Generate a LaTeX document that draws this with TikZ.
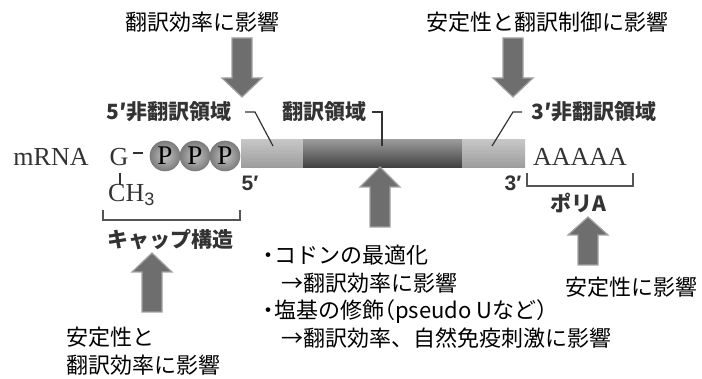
\documentclass[tikz,border=0pt]{standalone}
\usepackage{fontspec}
\setmainfont{Liberation Serif}
\newfontfamily\jp{Noto Sans CJK JP}
\newfontfamily\jpp[RawFeature=+palt]{Noto Sans CJK JP}
\newfontfamily\sansf{Liberation Sans}
\usetikzlibrary{calc}
\definecolor{arrowfill}{HTML}{6E6E6E}
\definecolor{arrowedge}{HTML}{A2A2A2}
\definecolor{labelgray}{HTML}{333333}
\definecolor{linegray}{HTML}{555555}
\definecolor{lightA}{HTML}{C6C6C6}
\definecolor{lightB}{HTML}{E2E2E2}
\definecolor{lightC}{HTML}{9C9C9C}
\definecolor{darkA}{HTML}{9A9A9A}
\definecolor{darkB}{HTML}{7A7A7A}
\definecolor{darkC}{HTML}{3E3E3E}
\definecolor{ballin}{HTML}{C4C4C4}
\definecolor{ballout}{HTML}{7C7C7C}
\tikzset{
  blockarrow/.style={fill=arrowfill,draw=arrowedge,line width=1.2pt,line join=miter},
  anno/.style={font=\jp\fontsize{22}{27.5}\selectfont,text=black,inner sep=0pt},
  lbl/.style={font=\jp\bfseries\fontsize{21}{25}\selectfont,text=labelgray,inner sep=0pt},
  serif/.style={font=\fontsize{26}{30}\selectfont,text=labelgray,inner sep=0pt},
  prime/.style={font=\sansf\bfseries\fontsize{21}{24}\selectfont,text=labelgray,inner sep=0pt},
  leader/.style={draw=labelgray,line width=1.2pt},
  bracketline/.style={draw=linegray,line width=2pt},
  lightseg/.style={rectangle,inner sep=0pt,minimum height=28pt,top color=lightA,middle color=lightB,bottom color=lightC},
  darkseg/.style={rectangle,inner sep=0pt,minimum height=28pt,top color=darkA,middle color=darkB,bottom color=darkC},
  pball/.style={circle,inner sep=0pt,minimum size=30pt,inner color=ballin,outer color=ballout,draw=ballout,line width=0.6pt,font=\fontsize{27}{28}\selectfont,text=black}
}
\newcommand\blockarrow[4]{%
  \filldraw[blockarrow] ({#1-10},#2) -- ({#1+10},#2) -- ({#1+10},#3) -- ({#1+20},#3) -- (#1,#4) -- ({#1-20},#3) -- ({#1-10},#3) -- cycle;}
\newcommand\pbul{{\jpp ・}}
\begin{document}
\begin{tikzpicture}[x=1pt,y=-1pt]
\useasboundingbox[fill=white] (0,0) rectangle (702,379);

% mRNA bar
\node[lightseg,minimum width=62pt] (utr5) at (272,154) {};
\node[darkseg,minimum width=159pt] (cds) at (382.5,154) {};
\node[lightseg,minimum width=63pt] (utr3) at (493.5,154) {};

% top annotations and arrows
\node[anno] (t1) at (202,22) {翻訳効率に影響};
\node[anno] (t2) at (547,22) {安定性と翻訳制御に影響};
\blockarrow{242}{38}{78}{97}
\blockarrow{513}{38}{78}{97}

% region labels
\node[lbl] (l5) at (169,112) {5′非翻訳領域};
\node[lbl] (lc) at (324,112) {翻訳領域};
\node[lbl] (l3) at (594,112) {3′非翻訳領域};
\coordinate (e5) at (273,146);
\coordinate (ec) at (382,146);
\coordinate (e3) at (492,146);
\draw[leader] (245,112) -- (255,112) -- (e5);
\draw[leader] (372,112) -- (382,112) -- (ec);
\draw[leader] (522,112) -- (513,112) -- (e3);

% cap
\node[serif] (mrna) at (51,157) {mRNA};
\node[serif] (g) at (119,157) {G};
\draw[draw=labelgray,line width=1.3pt] (133,153) -- (143,153);
\node[pball] (p1) at (165,156) {P};
\node[pball] (p2) at (195,156) {P};
\node[pball] (p3) at (225,156) {P};
\draw[draw=labelgray,line width=1.3pt] (120,173) -- (120,184);
\node[serif,anchor=west] (ch3) at (108,195) {CH\raisebox{-4pt}{\sansf\fontsize{18}{18}\selectfont 3}};
\node[prime] (five) at (250,183) {5′};
\draw[bracketline] (103,210) -- (103,220) -- (240,220) -- (240,210);
\node[lbl] (cap) at (170,240) {キャップ構造};
\blockarrow{152}{312}{272}{253}
\node[anno,align=left,anchor=west] (capnote) at (66,351) {安定性と\\翻訳効率に影響};

% coding region note
\blockarrow{380}{227}{187}{167}
\node[anno,align=left,anchor=west] (cdsnote) at (263,296.5) {\pbul コドンの最適化\\\hspace*{18pt}→翻訳効率に影響\\\pbul 塩基の修飾{\jpp （}pseudo Uなど）\\\hspace*{18pt}→翻訳効率、自然免疫刺激に影響};

% poly A
\node[serif] (aaaaa) at (580,157) {AAAAA};
\node[prime] (three) at (513,183) {3′};
\draw[bracketline] (527,173) -- (527,186) -- (633,186) -- (633,173);
\node[lbl] (polya) at (578,203) {ポリA};
\blockarrow{588}{265}{235}{217}
\node[anno] (polynote) at (631,287) {安定性に影響};
\end{tikzpicture}
\end{document}
